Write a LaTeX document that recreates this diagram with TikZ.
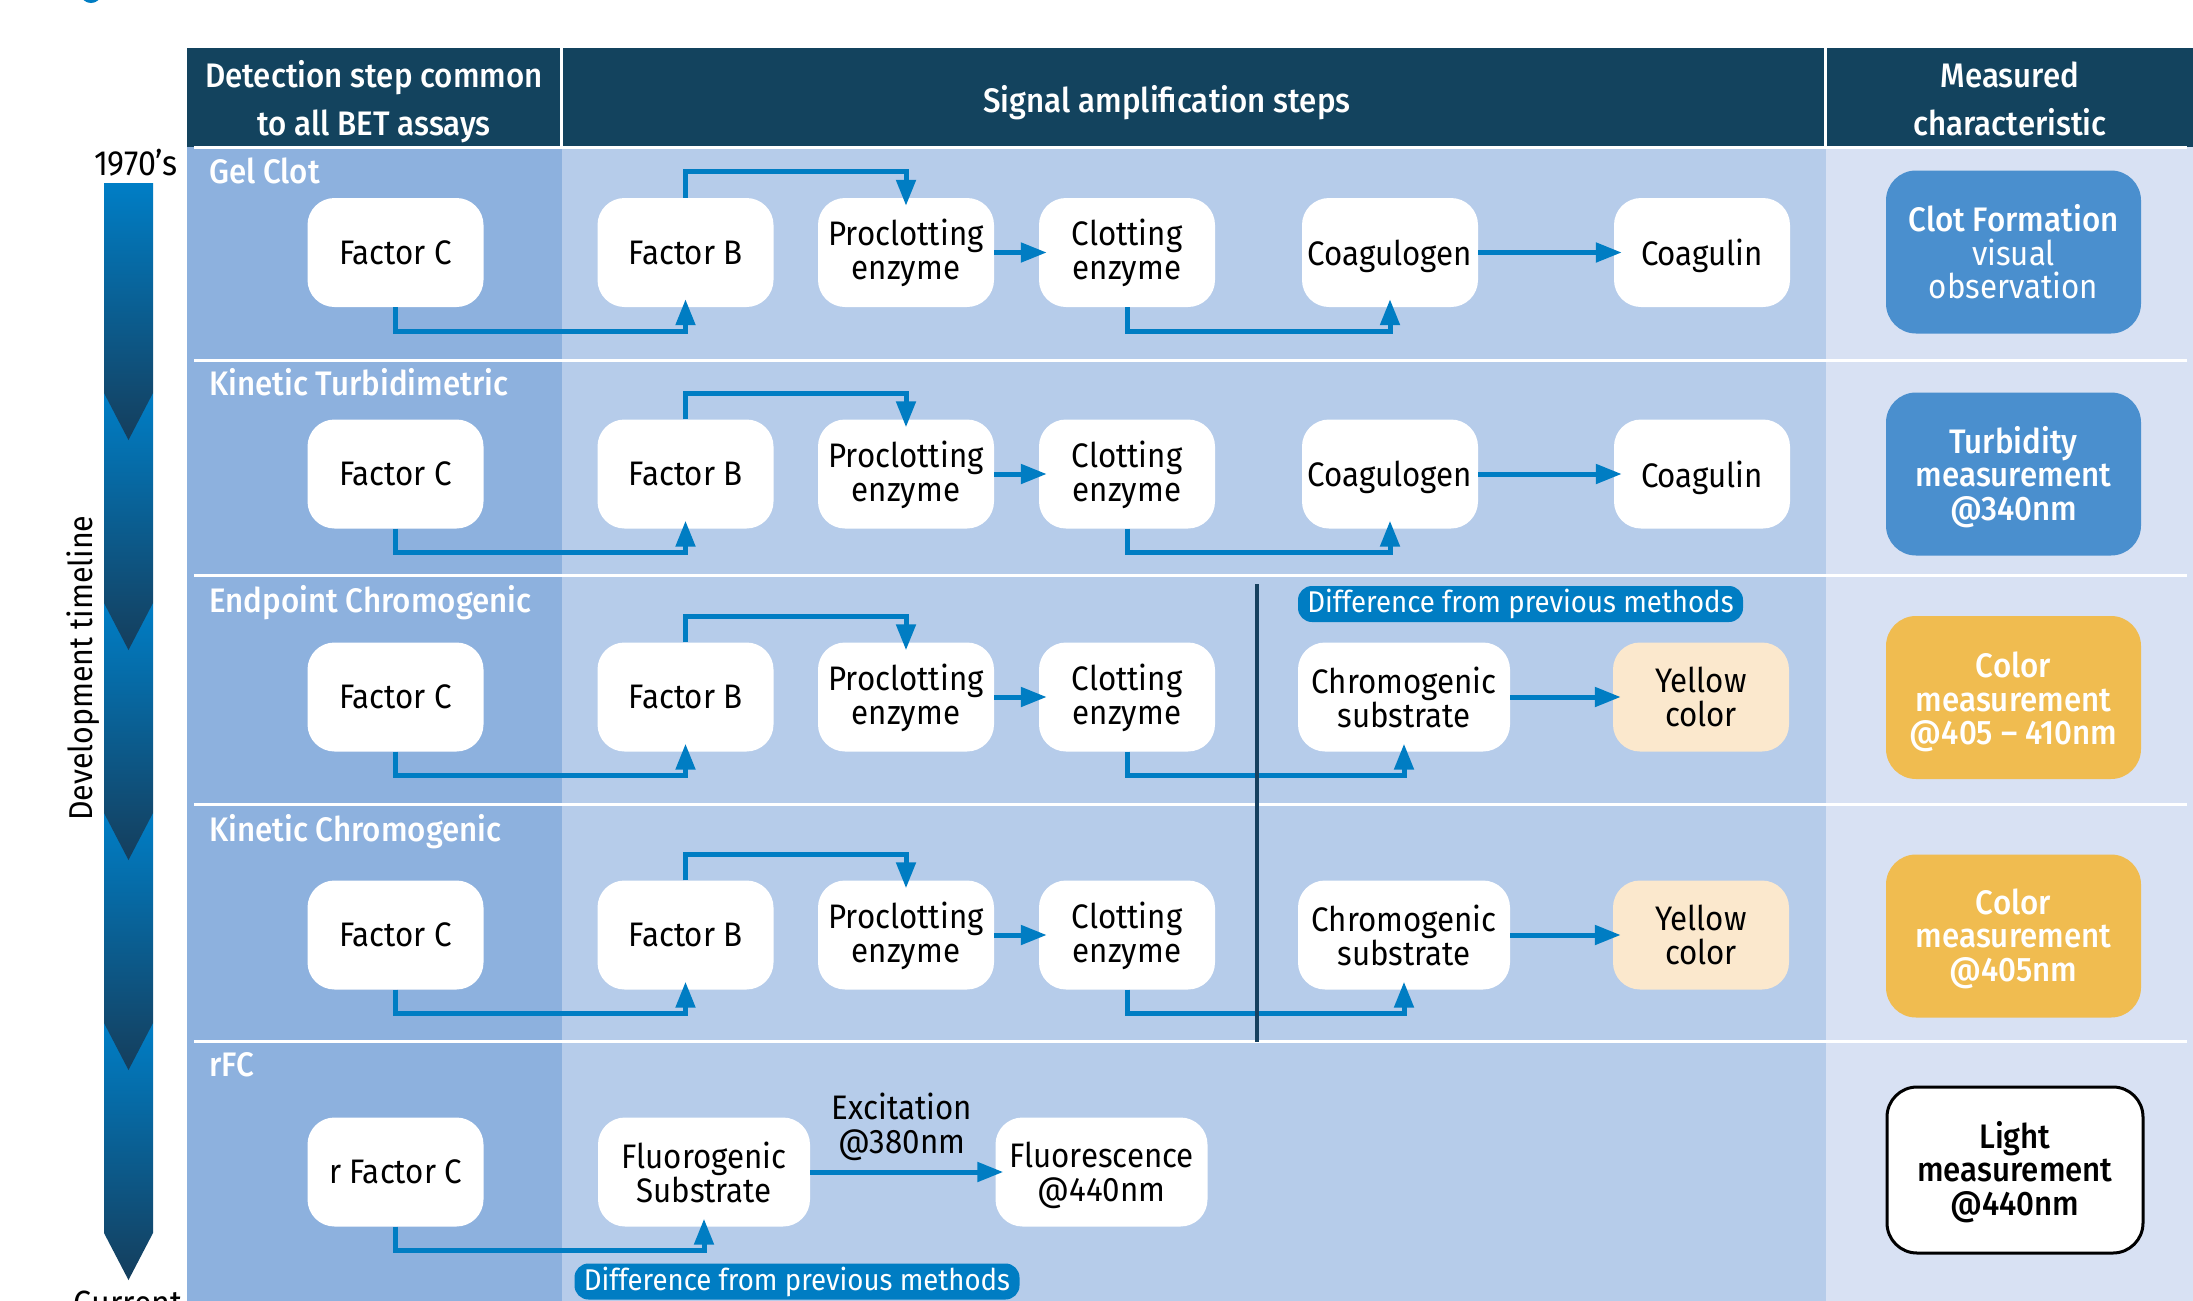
\documentclass[tikz,border=0pt]{standalone}
\usepackage{fontspec}
\setmainfont{Fira Sans}[FakeStretch=0.92]
\IfFontExistsTF{Fira Sans Medium}
  {\newfontfamily\medfam{Fira Sans Medium}[FakeStretch=0.92]}
  {\newfontfamily\medfam{Fira Sans Bold}[FakeStretch=0.92]}
\usetikzlibrary{arrows.meta}

\definecolor{hdr}{RGB}{19,67,94}
\definecolor{colA}{RGB}{141,177,222}
\definecolor{colB}{RGB}{182,204,234}
\definecolor{colC}{RGB}{216,225,243}
\definecolor{flow}{RGB}{0,125,195}
\definecolor{measBlue}{RGB}{74,143,206}
\definecolor{measGold}{RGB}{240,188,80}
\definecolor{paleYellow}{RGB}{251,232,205}
\definecolor{navy}{RGB}{22,64,95}
\definecolor{tlTop}{RGB}{0,126,198}
\definecolor{tlBot}{RGB}{21,62,92}

\newcommand\boxtxt{\fontsize{34}{34}\selectfont}
\newcommand\hdrtxt{\medfam\fontsize{34}{48}\selectfont}
\newcommand\meastxt{\medfam\fontsize{34}{33.5}\selectfont}
\newcommand\measreg{\fontsize{34}{33.5}\selectfont}
\newcommand\titletxt{\medfam\fontsize{34}{34}\selectfont}
\newcommand\badgetxt{\fontsize{30}{30}\selectfont}
\newcommand\sidetxt{\fontsize{35}{35}\selectfont}
\newcommand\axistxt{\fontsize{33}{33}\selectfont}
% invisible strut that lowers a centred text block
\newcommand\lift[1]{\rule{0pt}{#1}}

\begin{document}
\begin{tikzpicture}[x=1pt, y=-1pt,
  stepbox/.style={fill=white, rounded corners=27pt, minimum width=176pt,
    minimum height=109pt, inner sep=0pt, align=center, font=\boxtxt, text=black},
  widebox/.style={stepbox, minimum width=212pt},
  measbox/.style={rounded corners=30pt, minimum width=255pt, minimum height=163pt,
    inner sep=0pt, align=center, font=\meastxt, text=white},
  flowarrow/.style={draw=flow, line width=5pt,
    -{Triangle[length=26pt,width=19pt]}, shorten >=-8pt},
  badge/.style={fill=flow, text=white, rounded corners=14pt, minimum width=445pt,
    minimum height=36pt, inner sep=0pt, font=\badgetxt},
  rowtitle/.style={anchor=base west, text=white, font=\titletxt, inner sep=0pt},
  hdrlabel/.style={text=white, font=\hdrtxt, align=center, inner sep=0pt},
  sepline/.style={draw=white, line width=3pt},
  side/.style={font=\sidetxt, text=black, inner sep=0pt}]

\useasboundingbox (0,0) rectangle (2193,1301);
\clip (0,0) rectangle (2193,1301);
\fill[white] (0,0) rectangle (2193,1301);

% small mark at the top edge
\fill[flow] (91,-6) ellipse (10 and 9);

% table background: header band and three columns
\fill[hdr]  (187,48)  rectangle (2193,147);
\fill[colA] (187,147) rectangle (562,1301);
\fill[colB] (562,147) rectangle (1826,1301);
\fill[colC] (1826,147) rectangle (2193,1301);
\draw[sepline] (561,48) -- (561,147);
\draw[sepline] (1825,48) -- (1825,147);
\foreach \yy in {147,360,575,804,1041}
  \draw[sepline] (194,\yy) -- (2187,\yy);

% header labels
\node[hdrlabel] (h1) at (374,102) {Detection step common\\to all BET assays};
\node[hdrlabel, anchor=base] (h2) at (1167,112) {Signal amplification steps};
\node[hdrlabel] (h3) at (2010,99) {Measured\\characteristic};

% development timeline
\foreach \t/\s in {1023/1233, 813/1023, 603/813, 393/603, 183/393}
  \shade[top color=tlTop, bottom color=tlBot]
    (104,\t) -- (153,\t) -- (153,\s) -- (128.5,\s+47) -- (104,\s) -- cycle;
\node[side, anchor=base] (yr) at (136,175) {1970’s};
\node[side, anchor=base] (now) at (128,1315) {Current};
\node[side, font=\axistxt, anchor=base, rotate=90] (tl) at (92,668) {Development timeline};

% row titles
\node[rowtitle] (t1) at (209,183)  {Gel Clot};
\node[rowtitle] (t2) at (209,395)  {Kinetic Turbidimetric};
\node[rowtitle] (t3) at (209,612)  {Endpoint Chromogenic};
\node[rowtitle] (t4) at (209,841)  {Kinetic Chromogenic};
\node[rowtitle] (t5) at (209,1076) {rFC};

% row 1: gel clot
\node[stepbox] (fc1) at (395.5,252.5) {Factor C};
\node[stepbox] (fb1) at (685.5,252.5) {Factor B};
\node[stepbox] (pe1) at (906,252.5)   {\lift{28pt}Proclotting\\enzyme};
\node[stepbox] (ce1) at (1127,252.5)  {\lift{28pt}Clotting\\enzyme};
\node[stepbox, text depth=0pt] (cg1) at (1390,252.5) {Coagulogen};
\node[stepbox, text depth=0pt] (cu1) at (1702,252.5) {Coagulin};
\node[measbox, fill=measBlue, font=\measreg] (m1) at (2013.5,252)
  {{\medfam Clot Formation}\\visual\\observation};

% row 2: kinetic turbidimetric
\node[stepbox] (fc2) at (395.5,474) {Factor C};
\node[stepbox] (fb2) at (685.5,474) {Factor B};
\node[stepbox] (pe2) at (906,474)   {\lift{28pt}Proclotting\\enzyme};
\node[stepbox] (ce2) at (1127,474)  {\lift{28pt}Clotting\\enzyme};
\node[stepbox, text depth=0pt] (cg2) at (1390,474) {Coagulogen};
\node[stepbox, text depth=0pt] (cu2) at (1702,474) {Coagulin};
\node[measbox, fill=measBlue] (m2) at (2013.5,474)
  {\lift{33pt}Turbidity\\measurement\\@340nm};

% row 3: endpoint chromogenic
\node[stepbox] (fc3) at (395.5,697) {Factor C};
\node[stepbox] (fb3) at (685.5,697) {Factor B};
\node[stepbox] (pe3) at (906,697)   {\lift{28pt}Proclotting\\enzyme};
\node[stepbox] (ce3) at (1127,697)  {\lift{28pt}Clotting\\enzyme};
\node[widebox] (cs3) at (1404,697)  {Chromogenic\\substrate};
\node[stepbox, fill=paleYellow] (yc3) at (1701,697) {Yellow\\color};
\node[measbox, fill=measGold] (m3) at (2013.5,697.5)
  {\lift{35pt}Color\\measurement\\@405 – 410nm};

% row 4: kinetic chromogenic
\node[stepbox] (fc4) at (395.5,935) {Factor C};
\node[stepbox] (fb4) at (685.5,935) {Factor B};
\node[stepbox] (pe4) at (906,935)   {\lift{28pt}Proclotting\\enzyme};
\node[stepbox] (ce4) at (1127,935)  {\lift{28pt}Clotting\\enzyme};
\node[widebox] (cs4) at (1404,935)  {Chromogenic\\substrate};
\node[stepbox, fill=paleYellow] (yc4) at (1701,935) {Yellow\\color};
\node[measbox, fill=measGold] (m4) at (2013.5,936)
  {\lift{31pt}Color\\measurement\\@405nm};

% row 5: rFC
\node[stepbox] (fc5) at (395.5,1172) {r Factor C};
\node[widebox] (fs5) at (704,1172)   {Fluorogenic\\Substrate};
\node[widebox] (fl5) at (1101.5,1172) {\lift{33pt}Fluorescence\\@440nm};
\node[measbox, fill=white, draw=black, line width=3pt, text=black,
  minimum width=256pt, minimum height=166pt] (m5) at (2015,1170)
  {\lift{31pt}Light\\measurement\\@440nm};
\node[font=\boxtxt, align=center, inner sep=0pt] (exc) at (902,1127)
  {Excitation\\@380nm};

% cascade connectors
\foreach \r in {1,2,3,4} {
  \draw[flowarrow] (fc\r.south) -- ++(0,24) -| (fb\r.south);
  \draw[flowarrow] (fb\r.north) -- ++(0,-26) -| (pe\r.north);
  \draw[flowarrow] (pe\r.east) -- (ce\r.west);
}
\draw[flowarrow] (ce1.south) -- ++(0,24) -| (cg1.south);
\draw[flowarrow] (cg1.east) -- (cu1.west);
\draw[flowarrow] (ce2.south) -- ++(0,24) -| (cg2.south);
\draw[flowarrow] (cg2.east) -- (cu2.west);
\draw[flowarrow] (ce3.south) -- ++(0,24) -| (cs3.south);
\draw[flowarrow] (cs3.east) -- (yc3.west);
\draw[flowarrow] (ce4.south) -- ++(0,24) -| (cs4.south);
\draw[flowarrow] (cs4.east) -- (yc4.west);
\draw[flowarrow] (fc5.south) -- ++(0,24) -| (fs5.south);
\draw[flowarrow] (fs5.east) -- (fl5.west);

% divider between the clotting cascade and the chromogenic readout
\draw[navy, line width=4.5pt] (1257,584) -- (1257,1042);

% badges
\node[badge] (bd1) at (1520.5,604)   {Difference from previous methods};
\node[badge] (bd2) at (797,1281.5)   {Difference from previous methods};

\end{tikzpicture}
\end{document}
